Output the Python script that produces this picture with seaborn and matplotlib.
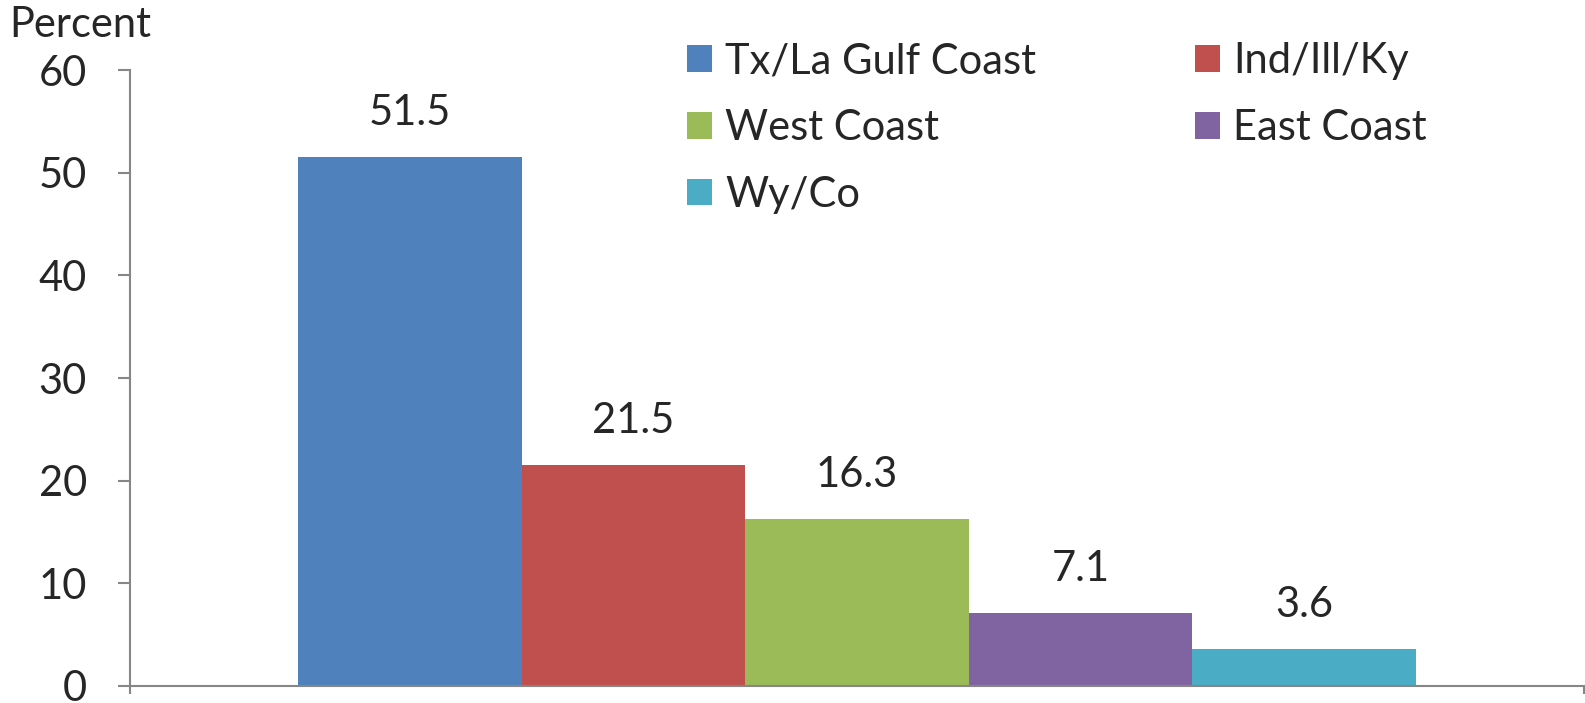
import matplotlib
matplotlib.use("Agg")
import matplotlib.pyplot as plt
import seaborn as sns
import pandas as pd
from matplotlib.patches import Patch

# Share of capacity by refining region
regions = ["Tx/La Gulf Coast", "Ind/Ill/Ky", "West Coast", "East Coast", "Wy/Co"]
shares = [51.5, 21.5, 16.3, 7.1, 3.6]
colors = ["#4F81BD", "#C0504D", "#9BBB59", "#8064A2", "#4BACC6"]
y_ticks = [0, 10, 20, 30, 40, 50, 60]

sns.set_style("white")
plt.rcParams["font.family"] = ["Lato", "DejaVu Sans"]

FS = 30

df = pd.DataFrame({"group": [""] * len(regions), "region": regions, "share": shares})

fig = plt.figure(figsize=(15.85, 7.03), dpi=100)
ax = fig.add_axes([0.082, 0.0242, 0.9174, 0.8762])

sns.barplot(data=df, x="group", y="share", hue="region", hue_order=regions,
            palette=colors, width=0.769, saturation=1, dodge=True, ax=ax,
            legend=False, linewidth=0)

for cont in ax.containers:
    ax.bar_label(cont, fmt="%.1f", padding=18, fontsize=FS)

ax.set_ylim(0, 60)
ax.set_xlim(-0.5, 0.5)
ax.set_yticks(y_ticks)
ax.set_xticks([-0.5, 0.5])
ax.set_xticklabels(["", ""])
ax.set_xlabel("")
ax.set_ylabel("")

spine_color = "#868686"
for side in ["top", "right"]:
    ax.spines[side].set_visible(False)
for side in ["left", "bottom"]:
    ax.spines[side].set_color(spine_color)
    ax.spines[side].set_linewidth(1.5)

ax.tick_params(axis="y", direction="out", length=9, width=1.5, color=spine_color,
               labelsize=FS, pad=22, left=True)
ax.tick_params(axis="x", direction="out", length=6, width=1.5, color=spine_color,
               bottom=True)

fig.text(0.006, 0.964, "Percent", fontsize=FS, ha="left", va="center")

# Legend laid out row-wise in two columns
handles = {r: Patch(facecolor=c, edgecolor="none") for r, c in zip(regions, colors)}
order = ["Tx/La Gulf Coast", "West Coast", "Wy/Co", "Ind/Ill/Ky", "East Coast"]
ax.legend([handles[r] for r in order], order, ncol=2, frameon=False,
          fontsize=FS, handlelength=0.6, handleheight=0.6, handletextpad=0.32,
          labelspacing=0.69, columnspacing=3.8,
          loc="upper left", bbox_to_anchor=(0.383, 1.045), borderaxespad=0,
          borderpad=0)

fig.savefig("out.png", dpi=100)
